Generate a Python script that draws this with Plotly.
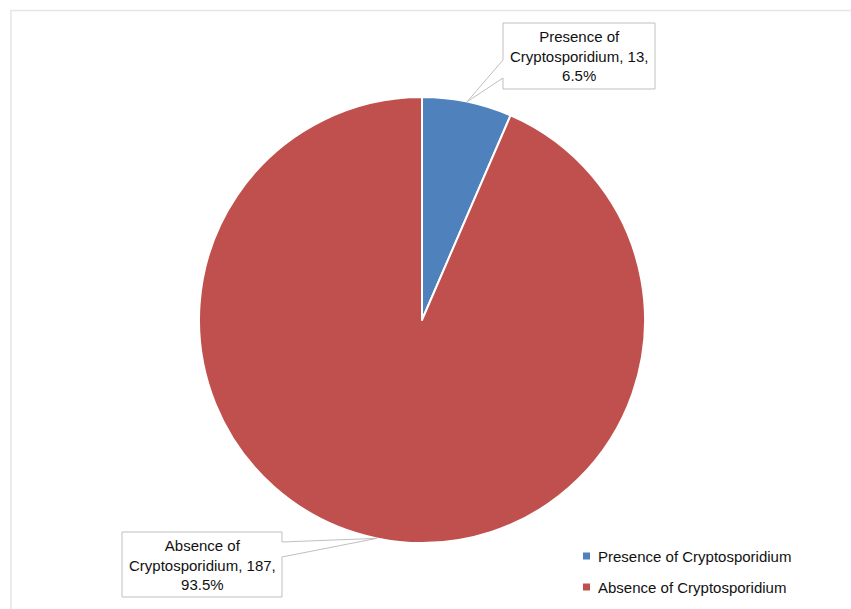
import math
import plotly.graph_objects as go

# ---- data ----
labels = ["Presence of Cryptosporidium", "Absence of Cryptosporidium"]
counts = [13, 187]
percents = [6.5, 93.5]
colors = ["#4F81BD", "#C0504D"]

W, H = 851, 609
CX, CY, R = 422, 320, 223  # pie centre / radius in pixels (layout)

def px(x):
    return x / W

def py(y):
    return 1 - y / H

FONT = "Liberation Sans"
TXT = "#111111"

fig = go.Figure(go.Pie(
    labels=labels,
    values=counts,
    marker=dict(colors=colors, line=dict(color="white", width=2)),
    sort=False,
    direction="clockwise",
    rotation=0,
    textinfo="none",
    hoverinfo="label+value+percent",
    showlegend=False,
    domain=dict(x=[px(CX - R), px(CX + R)], y=[py(CY + R), py(CY - R)]),
))

# callout boxes (layout positions) with tails pointing at slice mid-angles (from data)
boxes = [
    dict(x0=503, y0=23, x1=655, y1=89, side="left", t0=60, t1=78),
    dict(x0=122, y0=532, x1=282, y1=597, side="right", t0=542, t1=557),
]
total = sum(counts)
cum = 0
shapes = []
annotations = []
for i, (lab, c, p) in enumerate(zip(labels, counts, percents)):
    mid = (cum + c / 2) / total * 2 * math.pi
    cum += c
    tipx = CX + R * math.sin(mid)
    tipy = CY - R * math.cos(mid)
    b = boxes[i]
    x0, y0, x1, y1 = b["x0"], b["y0"], b["x1"], b["y1"]
    if b["side"] == "left":
        pts = [(x0, y0), (x1, y0), (x1, y1), (x0, y1), (x0, b["t1"]), (tipx, tipy), (x0, b["t0"])]
    else:
        pts = [(x0, y0), (x1, y0), (x1, b["t0"]), (tipx, tipy), (x1, b["t1"]), (x1, y1), (x0, y1)]
    path = "M " + " L ".join(f"{px(a):.5f},{py(bb):.5f}" for a, bb in pts) + " Z"
    shapes.append(dict(type="path", xref="paper", yref="paper", path=path,
                       line=dict(color="#BFBFBF", width=1), fillcolor="white", layer="above"))
    name1, name2 = lab.split(" of ")
    text = f"{name1} of<br>{name2}, {c},<br>{p}%"
    annotations.append(dict(x=px((x0 + x1) / 2), y=py((y0 + y1) / 2), xref="paper", yref="paper",
                            xanchor="center", yanchor="middle",
                            text=text, showarrow=False, align="center",
                            font=dict(family=FONT, size=15, color=TXT)))

# manual legend
leg_y = [556, 587]
for lab, col, ly in zip(labels, colors, leg_y):
    shapes.append(dict(type="rect", xref="paper", yref="paper",
                       x0=px(583), x1=px(590), y0=py(ly + 3.5), y1=py(ly - 3.5),
                       fillcolor=col, line=dict(width=0)))
    annotations.append(dict(x=px(596), y=py(ly), xref="paper", yref="paper", xanchor="left",
                            yanchor="middle", text=lab, showarrow=False,
                            font=dict(family=FONT, size=15, color=TXT)))

# outer chart border
shapes.append(dict(type="rect", xref="paper", yref="paper", x0=px(11), y0=py(W), x1=px(W + 5),
                   y1=py(10.5), line=dict(color="#E6E6E6", width=1.5), layer="below"))

fig.update_layout(
    width=W, height=H,
    margin=dict(l=0, r=0, t=0, b=0),
    paper_bgcolor="white",
    plot_bgcolor="white",
    shapes=shapes,
    annotations=annotations,
    font=dict(family=FONT, size=15, color=TXT),
)

fig.write_html("out.html", config={"displayModeBar": False},
               post_script="document.body.style.margin='0';document.body.style.overflow='hidden';")
